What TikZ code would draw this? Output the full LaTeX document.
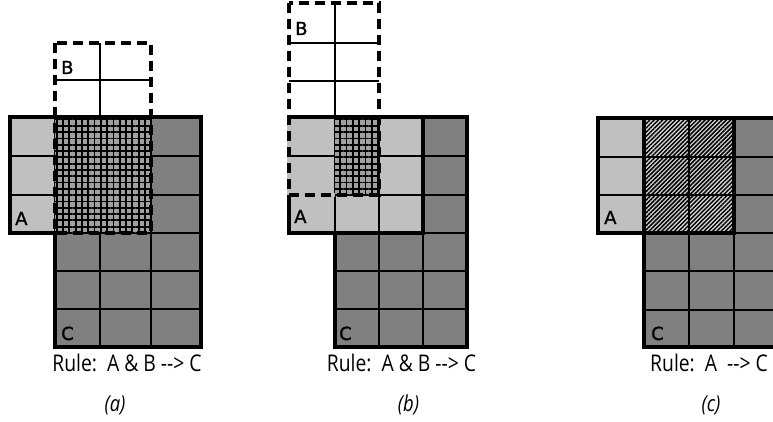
\documentclass[tikz,border=0pt]{standalone}
\usepackage{fontspec}
\usetikzlibrary{patterns.meta}
\newfontfamily\capfont[FakeStretch=0.84]{Open Sans}
\newfontfamily\lblfont[FakeBold=1.3]{DejaVu Sans}
\definecolor{lightg}{HTML}{C0C0C0}
\definecolor{darkg}{HTML}{808080}
\definecolor{xgray}{HTML}{A0A0A0}
\definecolor{hlight}{HTML}{D8D8D8}
\begin{document}
\begin{tikzpicture}[x=1pt,y=-1pt,
  thinline/.style={line width=1.7pt},
  thickline/.style={line width=3.4pt, line join=miter},
  dashline/.style={line width=3.4pt, dash pattern=on 10pt off 6pt},
  lbl/.style={font=\lblfont\fontsize{18}{18}\selectfont, inner sep=0pt, anchor=base west},
  rulelbl/.style={font=\capfont\fontsize{23}{26}\selectfont, inner sep=0pt},
  sublbl/.style={font=\capfont\itshape\fontsize{22}{24}\selectfont, inner sep=0pt, anchor=base},
  xhatch/.style={preaction={fill=xgray}, pattern={Hatch[angle=0,distance=6.3pt,line width=1.8pt]}, pattern color=black},
  dhatch/.style={preaction={fill=hlight}, pattern={Lines[angle=45,distance=3pt,line width=1.5pt]}, pattern color=black}]
\useasboundingbox (0,0) rectangle (773,422);
\clip (0,0) rectangle (773,422);

% ---------- panel (a) ----------
\fill[darkg] (55,117) rectangle (201,347);
\fill[lightg] (10,117) rectangle (151,233);
\draw[thinline] (10,156) -- (201,156) (10,195) -- (201,195) (55,233) -- (201,233)
  (55,271) -- (201,271) (55,309) -- (201,309);
\draw[thinline] (55,117) -- (55,347) (100,117) -- (100,347) (151,117) -- (151,347);
\path[xhatch] (55,117) rectangle (151,233);
\draw[thickline] (55,233) -- (10,233) -- (10,117) -- (201,117) -- (201,347) -- (55,347) -- (55,231);
\draw[thinline] (55,80) -- (151,80) (100,43) -- (100,117);
\draw[dashline] (55,43) rectangle (151,233);
\node[lbl] (aA) at (15,225) {A};
\node[lbl] (aB) at (61,74) {B};
\node[lbl] (aC) at (61,340) {C};
\node[rulelbl, anchor=base] (aRule) at (127,371) {Rule:\ \ A \& B -{}-{}> C};
\node[sublbl] (aSub) at (115,411) {(a)};

% ---------- panel (b) ----------
\fill[darkg] (335,117) rectangle (467,347);
\fill[lightg] (289,117) rectangle (423,233);
\draw[thinline] (289,156) -- (467,156) (289,195) -- (467,195) (335,233) -- (467,233)
  (335,271) -- (467,271) (335,309) -- (467,309);
\draw[thinline] (335,117) -- (335,347) (379,117) -- (379,347) (423,117) -- (423,347);
\draw[line width=4pt, lightg] (289,119) -- (289,195) -- (335,195);
\path[xhatch] (335,117) rectangle (379,195);
\draw[thickline] (289,195) -- (289,233) -- (335,233) -- (335,347) -- (467,347) -- (467,117) -- (289,117);
\draw[thickline] (335,233) -- (423,233) -- (423,117);
\draw[thinline] (335,3) -- (335,117) (289,43) -- (379,43) (289,81) -- (379,81);
\draw[dashline] (289,3) rectangle (379,195);
\node[lbl] (bA) at (294,223) {A};
\node[lbl] (bB) at (295,35) {B};
\node[lbl] (bC) at (339,340) {C};
\node[rulelbl, anchor=base] (bRule) at (401.5,371) {Rule:\ \ A \& B -{}-{}> C};
\node[sublbl] (bSub) at (408.5,411) {(b)};

% ---------- panel (c) ----------
\fill[darkg] (644,118) rectangle (780,347);
\fill[lightg] (598,118) rectangle (734,233);
\path[dhatch] (644,118) rectangle (734,233);
\draw[thinline] (598,157) -- (780,157) (598,195) -- (780,195) (644,233) -- (780,233)
  (644,271) -- (780,271) (644,310) -- (780,310);
\draw[thinline] (689,118) -- (689,347) (734,118) -- (734,347);
\draw[thickline] (598,118) rectangle (734,233);
\draw[thickline] (644,118) rectangle (780,347);
\node[lbl] (cA) at (604,224) {A};
\node[lbl] (cC) at (651,340) {C};
\node[rulelbl, anchor=base west] (cRule) at (650,371) {Rule:\ \ A\ \ -{}-{}> C};
\node[sublbl] (cSub) at (711,411) {(c)};
\end{tikzpicture}
\end{document}
